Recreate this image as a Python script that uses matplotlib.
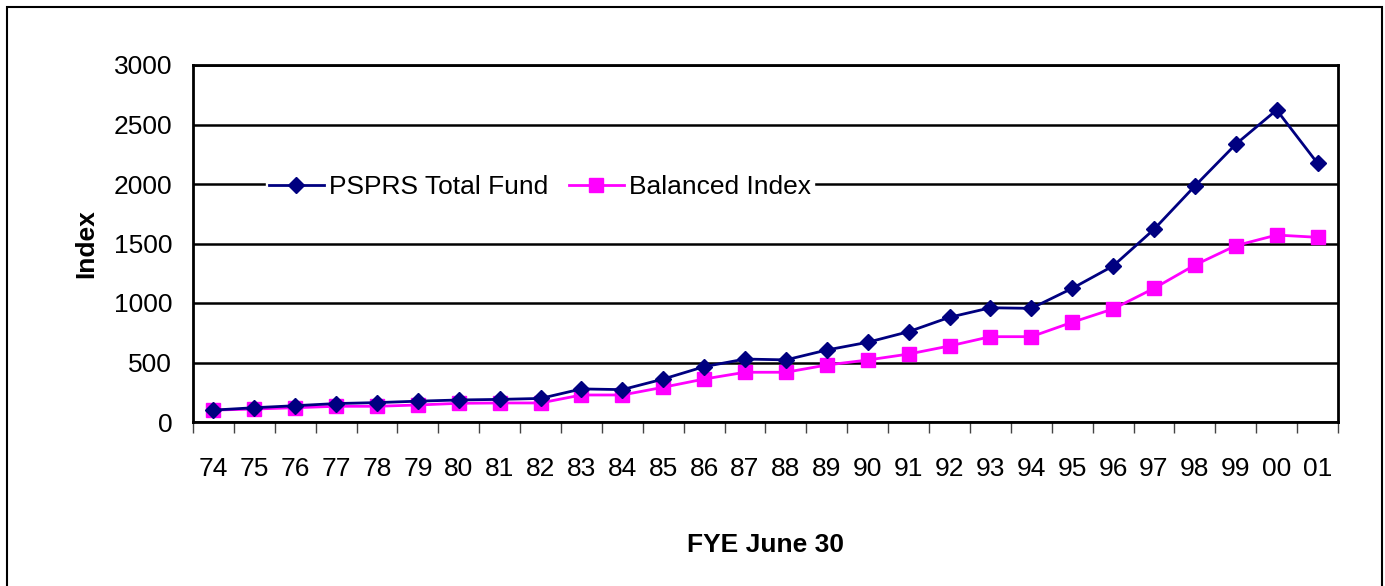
"""PSPRS Total Fund vs Balanced Index, growth index by fiscal year end."""
import numpy as np
import matplotlib
matplotlib.use("Agg")
import matplotlib.pyplot as plt
from matplotlib.patches import Rectangle

plt.rcParams["font.family"] = ["Liberation Sans", "DejaVu Sans"]

years = ["74", "75", "76", "77", "78", "79", "80", "81", "82", "83", "84", "85", "86", "87",
         "88", "89", "90", "91", "92", "93", "94", "95", "96", "97", "98", "99", "00", "01"]
psprs = [100, 120, 137, 155, 163, 175, 185, 190, 198, 278, 272, 361, 465, 529,
         522, 605, 670, 759, 880, 960, 955, 1123, 1311, 1619, 1983, 2334, 2622, 2174]
balanced = [100, 109, 120, 132, 132, 143, 157, 160, 160, 227, 227, 292, 361, 418,
            418, 479, 521, 571, 639, 717, 717, 838, 950, 1123, 1319, 1482, 1571, 1552]
yticks = [0, 500, 1000, 1500, 2000, 2500, 3000]

FS = 19
W, H = 1385, 586

fig = plt.figure(figsize=(W / 100, H / 100), dpi=100)
ax = fig.add_axes([193 / W, 1 - 422 / H, (1338 - 193) / W, (422 - 65) / H])

x = np.arange(len(years))
ax.plot(x, psprs, color="#000080", lw=2.0, marker="D", ms=8, label="PSPRS Total Fund", zorder=4)
ax.plot(x, balanced, color="#FF00FF", lw=2.0, marker="s", ms=10.5, label="Balanced Index", zorder=3)

ax.set_xlim(-0.5, len(years) - 0.5)
ax.set_ylim(0, 3000)
ax.set_yticks(yticks)
ax.set_yticklabels([str(v) for v in yticks], fontsize=FS)
ax.tick_params(axis="y", length=0, pad=15)
ax.set_xticks(x)
ax.set_xticklabels(years, fontsize=FS)
ax.tick_params(axis="x", which="major", length=0, pad=25)
ax.set_xticks(np.arange(-0.5, len(years)), minor=True)
ax.tick_params(axis="x", which="minor", length=8, width=1, color="#444444", direction="out")
ax.grid(axis="y", color="black", lw=1.8, zorder=1)
ax.set_axisbelow(True)
for s in ax.spines.values():
    s.set_linewidth(2)

ax.set_ylabel("Index", fontsize=FS, fontweight="bold", labelpad=11)
ax.set_xlabel("FYE June 30", fontsize=FS, fontweight="bold", labelpad=38)

leg = ax.legend(loc="center", bbox_to_anchor=(540 / W, 1 - 187 / H),
                bbox_transform=fig.transFigure, ncol=2, frameon=True, fontsize=FS,
                handlelength=2.1, handletextpad=0.2, columnspacing=0.75,
                borderpad=0.1, fancybox=False)
leg.get_frame().set_edgecolor("white")
leg.get_frame().set_facecolor("white")
leg.get_frame().set_alpha(1)

# outer chart border (open at the bottom, cut off in the original)
fig.patches.append(Rectangle((7 / W, -0.05), (1382 - 7) / W, 1.05 - 7 / H,
                             transform=fig.transFigure, fill=False,
                             edgecolor="black", lw=1.5))

fig.savefig("out.png", dpi=100)
